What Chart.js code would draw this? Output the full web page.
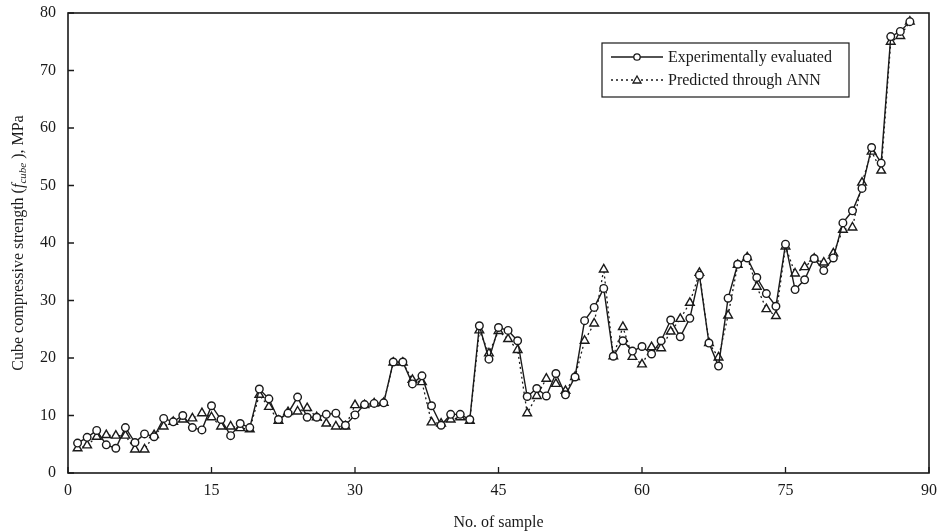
<!DOCTYPE html>
<html>
<head>
<meta charset="utf-8">
<script src="https://cdn.jsdelivr.net/npm/chart.js@4.4.1/dist/chart.umd.min.js"></script>
<style>
    html, body { margin: 0; padding: 0; background: #fff; }
    #wrap { width: 941px; height: 532px; position: relative; }
</style>
</head>
<body>
<div id="wrap"><canvas id="c"></canvas></div>
<script>
/* Cube compressive strength: experiment vs ANN prediction */

var sampleNo = [];
for (var n = 1; n <= 88; n++) sampleNo.push(n);

var experimental = [
    5.2, 6.2, 7.4, 4.9, 4.3, 7.9, 5.3, 6.8, 6.3, 9.5,
    8.9, 10.0, 7.9, 7.5, 11.7, 9.3, 6.5, 8.6, 7.9, 14.6,
    12.9, 9.3, 10.4, 13.2, 9.7, 9.7, 10.2, 10.4, 8.3, 10.1,
    11.9, 12.1, 12.2, 19.3, 19.3, 15.5, 16.9, 11.7, 8.3, 10.2,
    10.2, 9.3, 25.6, 19.8, 25.3, 24.8, 23.0, 13.3, 14.7, 13.4,
    17.3, 13.6, 16.7, 26.5, 28.8, 32.1, 20.3, 23.0, 21.2, 22.0,
    20.7, 23.0, 26.6, 23.7, 26.9, 34.4, 22.6, 18.6, 30.4, 36.3,
    37.4, 34.0, 31.2, 29.0, 39.8, 31.9, 33.6, 37.3, 35.2, 37.4,
    43.5, 45.6, 49.5, 56.6, 53.9, 75.9, 76.8, 78.5
];

var predicted = [
    4.3, 4.8, 6.3, 6.6, 6.5, 6.5, 4.1, 4.1, 6.6, 8.1,
    8.9, 9.3, 9.5, 10.4, 9.7, 8.1, 8.1, 7.8, 7.6, 13.6,
    11.5, 9.1, 10.6, 10.7, 11.3, 9.7, 8.6, 8.1, 8.1, 11.8,
    11.8, 12.1, 12.2, 19.2, 19.2, 16.2, 15.8, 8.8, 8.6, 9.3,
    9.7, 9.1, 24.8, 20.8, 24.7, 23.3, 21.4, 10.4, 13.4, 16.4,
    15.5, 14.3, 16.7, 23.0, 26.0, 35.4, 20.3, 25.4, 20.2, 18.9,
    21.9, 21.7, 24.6, 26.8, 29.6, 34.8, 22.6, 20.1, 27.4, 36.2,
    37.5, 32.4, 28.5, 27.3, 39.4, 34.7, 35.8, 37.3, 36.6, 38.2,
    42.3, 42.7, 50.5, 55.9, 52.6, 75.0, 76.0, 78.5
];

var xTicks = [0, 15, 30, 45, 60, 75, 90];
var yTicks = [0, 10, 20, 30, 40, 50, 60, 70, 80];

var seriesNames = ['Experimentally evaluated', 'Predicted through ANN'];

var SERIF = '"Liberation Serif", "Times New Roman", serif';
var INK = '#1a1a1a';

function toPoints(vals) {
    return vals.map(function(v, i) { return { x: sampleNo[i], y: v }; });
}

// box, inward ticks, y title with italic subscript, legend
var decorPlugin = {
    id: 'decor',
    afterDraw: function(chart) {
        var ctx = chart.ctx;
        var a = chart.chartArea;
        var xs = chart.scales.x, ys = chart.scales.y;
        ctx.save();
        ctx.strokeStyle = INK;
        ctx.lineWidth = 1.6;
        ctx.strokeRect(a.left, a.top, a.right - a.left, a.bottom - a.top);

        ctx.lineWidth = 1.3;
        ctx.beginPath();
        xTicks.forEach(function(t) {
            var px = xs.getPixelForValue(t);
            ctx.moveTo(px, a.bottom);
            ctx.lineTo(px, a.bottom - 6);
        });
        yTicks.forEach(function(t) {
            var py = ys.getPixelForValue(t);
            ctx.moveTo(a.left, py);
            ctx.lineTo(a.left + 6, py);
        });
        ctx.stroke();

        // y axis title
        var parts = [
            { t: 'Cube compressive strength (', f: '16px ' + SERIF, dy: 0 },
            { t: 'f', f: 'italic 16px ' + SERIF, dy: 0 },
            { t: 'cube', f: 'italic 11px ' + SERIF, dy: 4 },
            { t: ' ), MPa', f: '16px ' + SERIF, dy: 0 }
        ];
        var total = 0;
        parts.forEach(function(p) { ctx.font = p.f; p.w = ctx.measureText(p.t).width; total += p.w; });
        ctx.translate(19, (a.top + a.bottom) / 2);
        ctx.rotate(-Math.PI / 2);
        ctx.fillStyle = INK;
        ctx.textBaseline = 'middle';
        var x = -total / 2;
        parts.forEach(function(p) {
            ctx.font = p.f;
            ctx.fillText(p.t, x, p.dy);
            x += p.w;
        });
        ctx.restore();

        // legend
        ctx.save();
        ctx.strokeStyle = INK;
        ctx.fillStyle = INK;
        ctx.lineWidth = 1.2;
        ctx.strokeRect(602, 43, 247, 54);
        ctx.font = '16px ' + SERIF;
        ctx.textBaseline = 'middle';
        var rows = [57, 80];
        rows.forEach(function(ry, i) {
            ctx.beginPath();
            ctx.setLineDash(i === 0 ? [] : [2, 3]);
            ctx.lineWidth = 1.3;
            ctx.moveTo(611, ry);
            ctx.lineTo(663, ry);
            ctx.stroke();
            ctx.setLineDash([]);
            ctx.fillStyle = '#fff';
            ctx.beginPath();
            if (i === 0) {
                ctx.arc(637, ry, 3.2, 0, Math.PI * 2);
            } else {
                ctx.moveTo(637, ry - 4);
                ctx.lineTo(641, ry + 3);
                ctx.lineTo(633, ry + 3);
                ctx.closePath();
            }
            ctx.fill();
            ctx.stroke();
            ctx.fillStyle = INK;
            ctx.fillText(seriesNames[i], 668, ry + 1);
        });
        ctx.restore();
    }
};

new Chart(document.getElementById('c'), {
    type: 'line',
    data: {
        datasets: [{
            label: seriesNames[0],
            data: toPoints(experimental),
            borderColor: INK,
            borderWidth: 1.4,
            pointStyle: 'circle',
            pointRadius: 3.8,
            pointBorderWidth: 1.4,
            pointBackgroundColor: '#fff',
            pointBorderColor: INK,
            tension: 0
        }, {
            label: seriesNames[1],
            data: toPoints(predicted),
            borderColor: INK,
            borderWidth: 1.3,
            borderDash: [2, 3],
            pointStyle: 'triangle',
            pointRadius: 5,
            pointBorderWidth: 1.4,
            pointBackgroundColor: '#fff',
            pointBorderColor: INK,
            tension: 0
        }]
    },
    options: {
        responsive: true,
        maintainAspectRatio: false,
        animation: false,
        layout: { padding: { top: 13, right: 12, left: 0, bottom: 0 } },
        plugins: {
            legend: { display: false },
            tooltip: { enabled: false }
        },
        scales: {
            x: {
                type: 'linear',
                min: 0,
                max: 90,
                afterBuildTicks: function(s) { s.ticks = xTicks.map(function(v) { return { value: v }; }); },
                afterFit: function(s) { s.height = 59; s.paddingLeft = 0; s.paddingRight = 0; },
                grid: { display: false, drawTicks: false },
                border: { display: false },
                ticks: { color: INK, padding: 8, font: { family: SERIF, size: 16 } },
                title: {
                    display: true,
                    text: 'No. of sample',
                    color: INK,
                    padding: { top: 4, bottom: 0 },
                    font: { family: SERIF, size: 16 }
                }
            },
            y: {
                min: 0,
                max: 80,
                afterBuildTicks: function(s) { s.ticks = yTicks.map(function(v) { return { value: v }; }); },
                afterFit: function(s) { s.width = 68; s.paddingTop = 0; s.paddingBottom = 0; },
                grid: { display: false, drawTicks: false },
                border: { display: false },
                ticks: { color: INK, padding: 12, font: { family: SERIF, size: 16 } }
            }
        }
    },
    plugins: [decorPlugin]
});
</script>
</body>
</html>
